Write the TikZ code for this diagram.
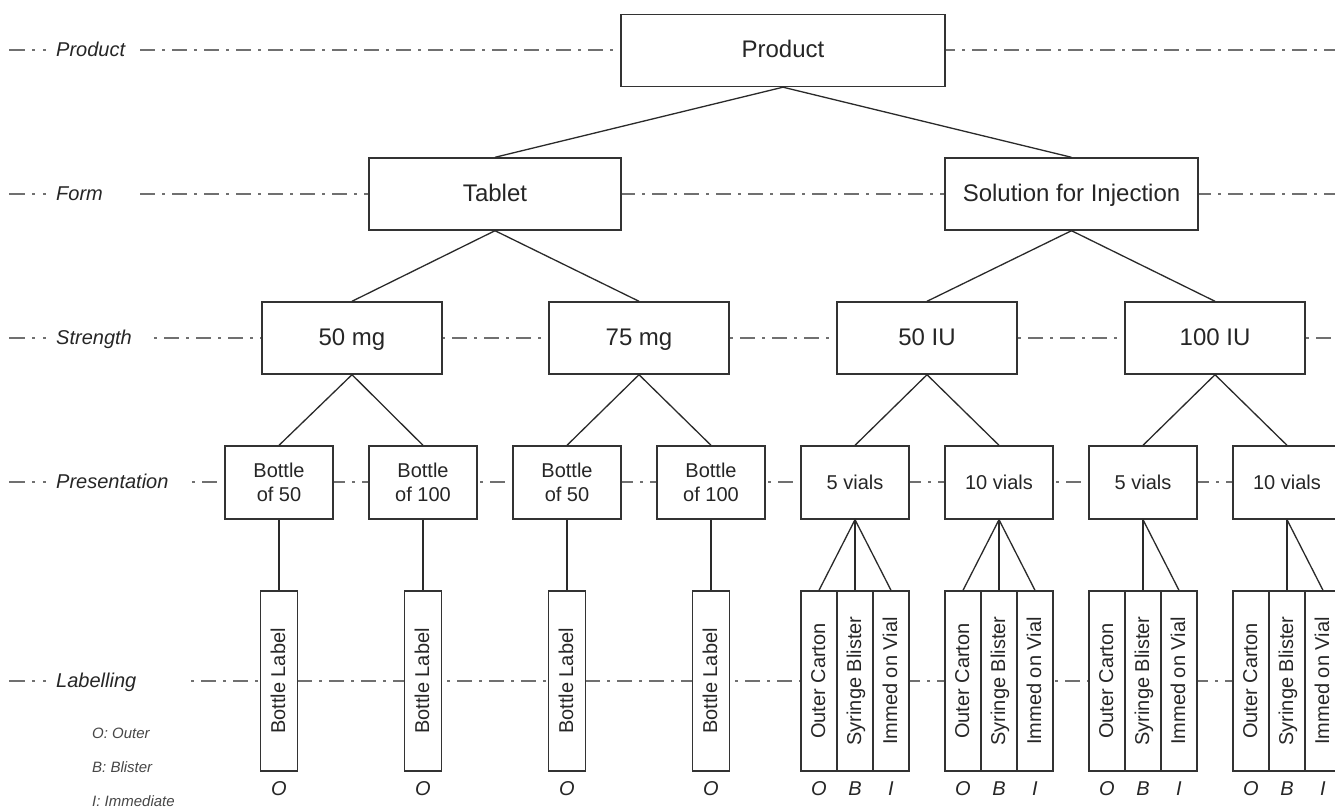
\documentclass[tikz,border=0pt]{standalone}
\usepackage{fontspec}
\setmainfont{Liberation Sans}
\begin{document}
\definecolor{boxc}{HTML}{333333}
\definecolor{linec}{HTML}{2A2A2A}
\definecolor{dashc}{HTML}{707070}
\definecolor{txt}{HTML}{262626}
\begin{tikzpicture}[x=1pt,y=-1pt,
  box/.style={draw=boxc, line width=1.4pt, fill=white, inner sep=0pt, align=center, text=txt},
  big/.style={box, minimum height=72pt, text height=17.3pt, text depth=2.4pt, font=\fontsize{24}{28}\selectfont},
  pres/.style={box, minimum width=108pt, minimum height=73pt, font=\fontsize{20}{24}\selectfont},
  lbl/.style={box, minimum width=36pt, minimum height=180pt},
  vtext/.style={rotate=90, inner sep=0pt, text height=14.4pt, text depth=2pt, font=\fontsize{20}{24}\selectfont, text=txt},
  rowname/.style={anchor=west, inner sep=0pt, text height=14.4pt, text depth=2pt, font=\fontsize{20}{24}\selectfont\itshape, text=txt},
  code/.style={inner sep=0pt, font=\fontsize{20}{24}\selectfont\itshape, text=txt},
  legend/.style={anchor=west, inner sep=0pt, text height=10.8pt, text depth=1.5pt, font=\fontsize{15}{18}\selectfont\itshape, text=txt!85},
  link/.style={draw=linec, line width=1.3pt},
  rowline/.style={draw=dashc, line width=1.6pt, dash pattern=on 15pt off 7pt on 2.5pt off 7.5pt},
  lead/.style={draw=dashc, line width=1.6pt, dash pattern=on 16pt off 7pt on 2.5pt off 8.5pt on 2.5pt off 60pt}]

\fill[white] (0,0) rectangle (1335,810);
\useasboundingbox (0,0) rectangle (1335,810);

% level guide lines
\draw[lead] (9,50) -- (48,50);   \draw[rowline] (140,50) -- (1335,50);
\draw[lead] (9,194) -- (48,194); \draw[rowline] (140,194) -- (1335,194);
\draw[lead] (9,338) -- (48,338); \draw[rowline, dash phase=22pt] (154,338) -- (1335,338);
\draw[lead] (9,482) -- (48,482); \draw[rowline, dash phase=22pt] (192,482) -- (1335,482);
\draw[lead] (9,681) -- (48,681); \draw[rowline, dash phase=22pt] (191,681) -- (1335,681);

% level names
\node[rowname] (nProduct) at (56,50) {Product};
\node[rowname] (nForm) at (56,194) {Form};
\node[rowname] (nStrength) at (56,338) {Strength};
\node[rowname] (nPresentation) at (56,482) {Presentation};
\node[rowname] (nLabelling) at (56,681) {Labelling};

% legend
\node[legend] (lgO) at (92,734) {O: Outer};
\node[legend] (lgB) at (92,768) {B: Blister};
\node[legend] (lgI) at (92,802) {I: Immediate};

% product and form
\node[big, minimum width=324pt] (prod) at (783,50.5) {Product};
\node[big, minimum width=252pt] (tab) at (495,194) {Tablet};
\node[big, minimum width=253pt] (sol) at (1071.5,194) {Solution for Injection};

% strengths
\node[big, minimum width=180pt] (s1) at (352,338) {50 mg};
\node[big, minimum width=180pt] (s2) at (639,338) {75 mg};
\node[big, minimum width=180pt] (s3) at (927,338) {50 IU};
\node[big, minimum width=180pt] (s4) at (1215,338) {100 IU};

% presentations
\node[pres] (p1) at (279,482.5) {Bottle\\of 50};
\node[pres] (p2) at (423,482.5) {Bottle\\of 100};
\node[pres] (p3) at (567,482.5) {Bottle\\of 50};
\node[pres] (p4) at (711,482.5) {Bottle\\of 100};
\node[pres] (p5) at (855,482.5) {5 vials};
\node[pres] (p6) at (999,482.5) {10 vials};
\node[pres] (p7) at (1143,482.5) {5 vials};
\node[pres] (p8) at (1287,482.5) {10 vials};

% bottle labels
\foreach \i/\c in {1/279, 2/423, 3/567, 4/711} {
  \node[lbl, minimum width=37pt] (l\i) at (\c,681) {};
  \node[vtext] at (l\i) {Bottle Label};
  \node[code] at (\c,789) {O};
}

% vial labels: outer carton, syringe blister, immediate on vial
\foreach \i/\c in {5/855, 6/999, 7/1143, 8/1287} {
  \node[lbl] (o\i) at (\c-36,681) {};
  \node[lbl] (b\i) at (\c,681) {};
  \node[lbl] (m\i) at (\c+36,681) {};
  \node[vtext] at (o\i) {Outer Carton};
  \node[vtext] at (b\i) {Syringe Blister};
  \node[vtext] at (m\i) {Immed on Vial};
  \node[code] at (\c-36,789) {O};
  \node[code] at (\c,789) {B};
  \node[code] at (\c+36,789) {I};
}

% tree connectors
\draw[link] (prod.south) -- (tab.north);
\draw[link] (prod.south) -- (sol.north);
\draw[link] (tab.south) -- (s1.north);
\draw[link] (tab.south) -- (s2.north);
\draw[link] (sol.south) -- (s3.north);
\draw[link] (sol.south) -- (s4.north);
\draw[link] (s1.south) -- (p1.north);
\draw[link] (s1.south) -- (p2.north);
\draw[link] (s2.south) -- (p3.north);
\draw[link] (s2.south) -- (p4.north);
\draw[link] (s3.south) -- (p5.north);
\draw[link] (s3.south) -- (p6.north);
\draw[link] (s4.south) -- (p7.north);
\draw[link] (s4.south) -- (p8.north);
\draw[link] (p1.south) -- (l1.north);
\draw[link] (p2.south) -- (l2.north);
\draw[link] (p3.south) -- (l3.north);
\draw[link] (p4.south) -- (l4.north);
\draw[link] (p5.south) -- (o5.north);
\draw[link] (p5.south) -- (b5.north);
\draw[link] (p5.south) -- (m5.north);
\draw[link] (p6.south) -- (o6.north);
\draw[link] (p6.south) -- (b6.north);
\draw[link] (p6.south) -- (m6.north);
\draw[link] (p7.south) -- (b7.north);
\draw[link] (p7.south) -- (m7.north);
\draw[link] (p8.south) -- (b8.north);
\draw[link] (p8.south) -- (m8.north);
\end{tikzpicture}
\end{document}
